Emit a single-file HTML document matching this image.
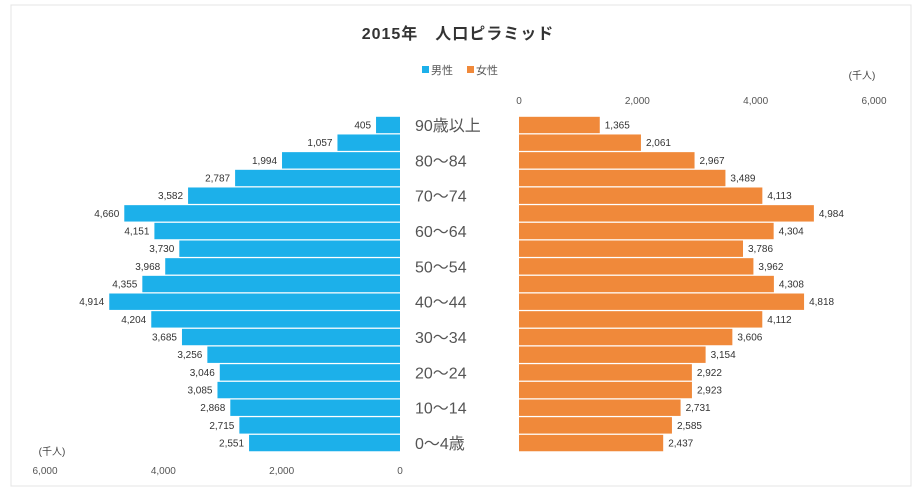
<!DOCTYPE html>
<html><head><meta charset="utf-8"><style>
body{margin:0;background:#fff;}
svg{display:block;font-family:"Liberation Sans","Noto Sans CJK JP",sans-serif;}
</style></head><body>
<svg id="c" width="917" height="495">
<rect x="11" y="5" width="900" height="481" fill="#fff" stroke="#e4e4e4"/>
<text x="458" y="39" text-anchor="middle" font-size="16" font-weight="bold" fill="#333" letter-spacing="1">2015年　人口ピラミッド</text>
<g>
<rect x="422" y="66" width="7" height="7" fill="#1cb0ea"/>
<text x="431" y="74" font-size="11" fill="#555">男性</text>
<rect x="467" y="66" width="7" height="7" fill="#f0893a"/>
<text x="476" y="74" font-size="11" fill="#555">女性</text>
</g>
<text x="862" y="79" text-anchor="middle" font-size="10" fill="#444">(千人)</text>
<text x="52" y="455" text-anchor="middle" font-size="10" fill="#444">(千人)</text>
<g id="bars"></g>
</svg>
<script>
const ages=["90歳以上","85～89","80～84","75～79","70～74","65～69","60～64","55～59","50～54","45～49","40～44","35～39","30～34","25～29","20～24","15～19","10～14","5～9","0～4歳"];
const male=[405,1057,1994,2787,3582,4660,4151,3730,3968,4355,4914,4204,3685,3256,3046,3085,2868,2715,2551];
const female=[1365,2061,2967,3489,4113,4984,4304,3786,3962,4308,4818,4112,3606,3154,2922,2923,2731,2585,2437];
const ticks=[0,2000,4000,6000];
const svg=document.getElementById('c');
const g=document.getElementById('bars');
const NS='http://www.w3.org/2000/svg';
const k=355/6000;
const xl=v=>400-v*k, xr=v=>519+v*k;
const yc=i=>125+i*17.67;
const fmt=v=>v.toLocaleString('en-US');
function mk(t,a){const e=document.createElementNS(NS,t);for(const n in a)e.setAttribute(n,a[n]);g.appendChild(e);return e;}
ticks.forEach(t=>{
 let e=mk('text',{x:xl(t),y:474,'text-anchor':'middle','font-size':10,fill:'#555'});e.textContent=fmt(t);
 
 
 e=mk('text',{x:xr(t),y:104,'text-anchor':'middle','font-size':10,fill:'#555'});e.textContent=fmt(t);
 
 
});
ages.forEach((a,i)=>{
 const y=yc(i);
 let r=mk('rect',{x:xl(male[i]),y:y-8.2,width:male[i]*k,height:16.4,fill:'#1cb0ea'});
 
 
 r=mk('rect',{x:xr(0),y:y-8.2,width:female[i]*k,height:16.4,fill:'#f0893a'});
 
 
 let t=mk('text',{x:xl(male[i])-5,y:y+3.5,'text-anchor':'end','font-size':10,fill:'#333'});t.textContent=fmt(male[i]);
 
 
 t=mk('text',{x:xr(female[i])+5,y:y+3.5,'font-size':10,fill:'#333'});t.textContent=fmt(female[i]);
 
 
 if(i%2===0){t=mk('text',{x:415,y:y+6,'font-size':16,fill:'#555'});t.textContent=a;
 
 }
});
</script>
</body></html>
